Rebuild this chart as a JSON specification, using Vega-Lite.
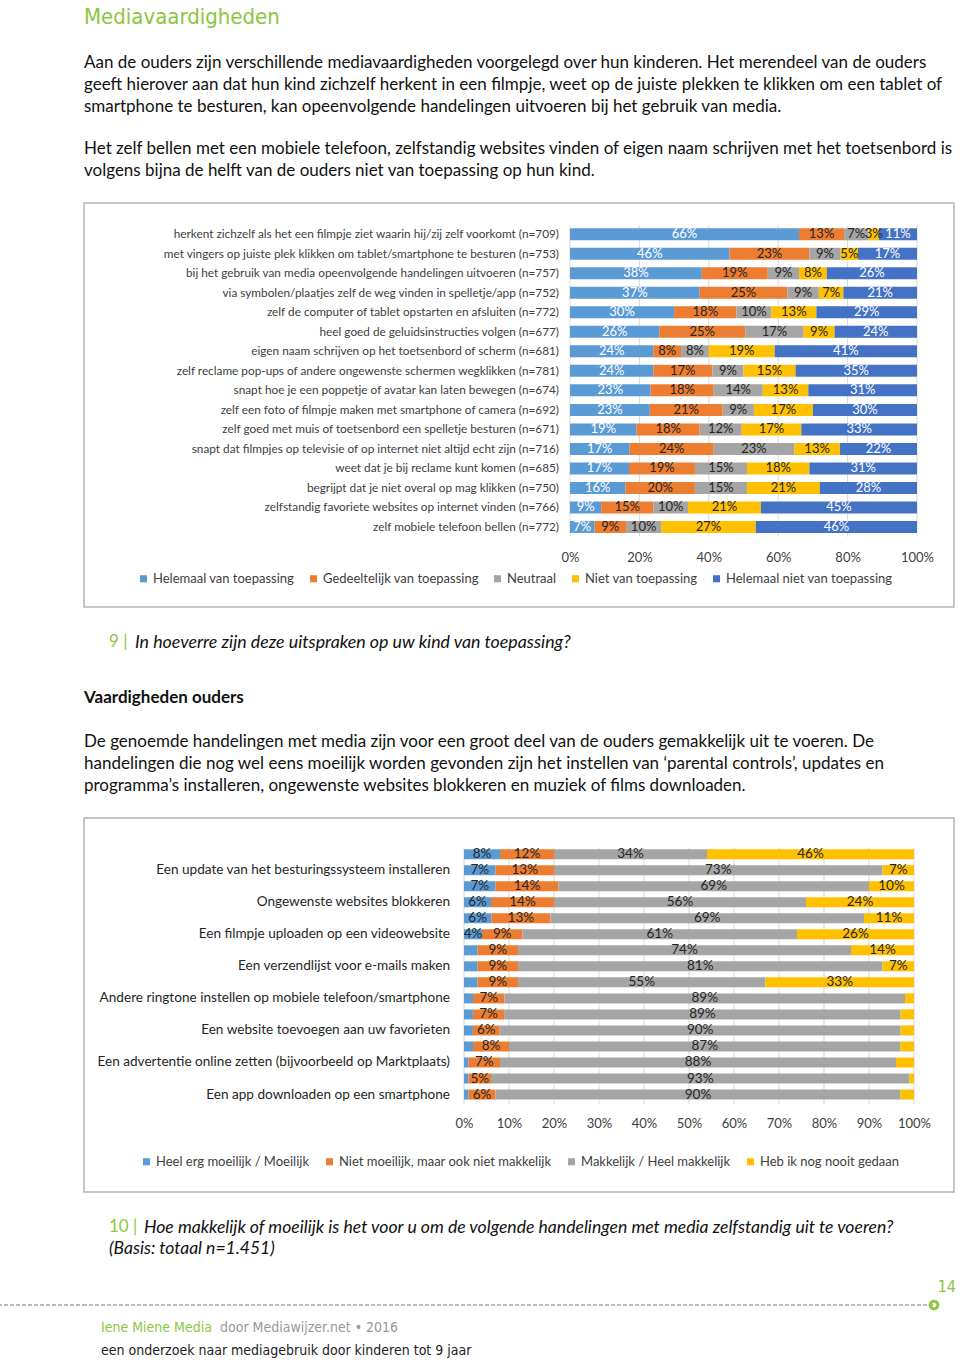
{
  "$schema": "https://vega.github.io/schema/vega-lite/v6.json",
  "background": "white",
  "padding": {"left": 0, "top": 5, "right": 0, "bottom": 0},
  "columns": 2,
  "spacing": 0,
  "bounds": "flush",
  "align": "each",
  "resolve": {"scale": {"color": "independent"}},
  "config": {
    "view": {"stroke": null},
    "font": "Lato",
    "title": {"anchor": "start", "frame": "group", "fontWeight": "normal", "font": "Lato", "color": "#111111"}
  },
  "datasets": {
    "c1cats": [
      {"k": 1, "cat": "Helemaal van toepassing"},
      {"k": 2, "cat": "Gedeeltelijk van toepassing"},
      {"k": 3, "cat": "Neutraal"},
      {"k": 4, "cat": "Niet van toepassing"},
      {"k": 5, "cat": "Helemaal niet van toepassing"}
    ],
    "c1items": [
      {"i": 1, "item": "herkent zichzelf als het een filmpje ziet waarin hij/zij zelf voorkomt (n=709)"},
      {"i": 2, "item": "met vingers op juiste plek klikken om  tablet/smartphone te besturen (n=753)"},
      {"i": 3, "item": "bij het gebruik van media opeenvolgende handelingen uitvoeren (n=757)"},
      {"i": 4, "item": "via symbolen/plaatjes zelf de weg vinden in spelletje/app (n=752)"},
      {"i": 5, "item": "zelf de computer of tablet opstarten en afsluiten (n=772)"},
      {"i": 6, "item": "heel goed de geluidsinstructies volgen (n=677)"},
      {"i": 7, "item": "eigen naam schrijven op het toetsenbord of scherm (n=681)"},
      {"i": 8, "item": "zelf reclame pop-ups of andere ongewenste schermen wegklikken (n=781)"},
      {"i": 9, "item": "snapt hoe je een poppetje of avatar kan laten bewegen (n=674)"},
      {"i": 10, "item": "zelf een foto of filmpje maken met smartphone of camera (n=692)"},
      {"i": 11, "item": "zelf  goed met  muis of toetsenbord een spelletje besturen (n=671)"},
      {"i": 12, "item": "snapt dat filmpjes op televisie of op internet niet altijd echt zijn (n=716)"},
      {"i": 13, "item": "weet dat je bij reclame kunt komen (n=685)"},
      {"i": 14, "item": "begrijpt dat je niet overal op mag klikken (n=750)"},
      {"i": 15, "item": "zelfstandig favoriete websites op internet vinden (n=766)"},
      {"i": 16, "item": "zelf mobiele telefoon bellen (n=772)"}
    ],
    "c1": [
      {"i":1,"k":1,"v":0.66},{"i":1,"k":2,"v":0.13},{"i":1,"k":3,"v":0.07},{"i":1,"k":4,"v":0.03},{"i":1,"k":5,"v":0.11},
      {"i":2,"k":1,"v":0.46},{"i":2,"k":2,"v":0.23},{"i":2,"k":3,"v":0.09},{"i":2,"k":4,"v":0.05},{"i":2,"k":5,"v":0.17},
      {"i":3,"k":1,"v":0.38},{"i":3,"k":2,"v":0.19},{"i":3,"k":3,"v":0.09},{"i":3,"k":4,"v":0.08},{"i":3,"k":5,"v":0.26},
      {"i":4,"k":1,"v":0.37},{"i":4,"k":2,"v":0.25},{"i":4,"k":3,"v":0.09},{"i":4,"k":4,"v":0.07},{"i":4,"k":5,"v":0.21},
      {"i":5,"k":1,"v":0.30},{"i":5,"k":2,"v":0.18},{"i":5,"k":3,"v":0.10},{"i":5,"k":4,"v":0.13},{"i":5,"k":5,"v":0.29},
      {"i":6,"k":1,"v":0.26},{"i":6,"k":2,"v":0.25},{"i":6,"k":3,"v":0.17},{"i":6,"k":4,"v":0.09},{"i":6,"k":5,"v":0.24},
      {"i":7,"k":1,"v":0.24},{"i":7,"k":2,"v":0.08},{"i":7,"k":3,"v":0.08},{"i":7,"k":4,"v":0.19},{"i":7,"k":5,"v":0.41},
      {"i":8,"k":1,"v":0.24},{"i":8,"k":2,"v":0.17},{"i":8,"k":3,"v":0.09},{"i":8,"k":4,"v":0.15},{"i":8,"k":5,"v":0.35},
      {"i":9,"k":1,"v":0.23},{"i":9,"k":2,"v":0.18},{"i":9,"k":3,"v":0.14},{"i":9,"k":4,"v":0.13},{"i":9,"k":5,"v":0.31},
      {"i":10,"k":1,"v":0.23},{"i":10,"k":2,"v":0.21},{"i":10,"k":3,"v":0.09},{"i":10,"k":4,"v":0.17},{"i":10,"k":5,"v":0.30},
      {"i":11,"k":1,"v":0.19},{"i":11,"k":2,"v":0.18},{"i":11,"k":3,"v":0.12},{"i":11,"k":4,"v":0.17},{"i":11,"k":5,"v":0.33},
      {"i":12,"k":1,"v":0.17},{"i":12,"k":2,"v":0.24},{"i":12,"k":3,"v":0.23},{"i":12,"k":4,"v":0.13},{"i":12,"k":5,"v":0.22},
      {"i":13,"k":1,"v":0.17},{"i":13,"k":2,"v":0.19},{"i":13,"k":3,"v":0.15},{"i":13,"k":4,"v":0.18},{"i":13,"k":5,"v":0.31},
      {"i":14,"k":1,"v":0.16},{"i":14,"k":2,"v":0.20},{"i":14,"k":3,"v":0.15},{"i":14,"k":4,"v":0.21},{"i":14,"k":5,"v":0.28},
      {"i":15,"k":1,"v":0.09},{"i":15,"k":2,"v":0.15},{"i":15,"k":3,"v":0.10},{"i":15,"k":4,"v":0.21},{"i":15,"k":5,"v":0.45},
      {"i":16,"k":1,"v":0.07},{"i":16,"k":2,"v":0.09},{"i":16,"k":3,"v":0.10},{"i":16,"k":4,"v":0.27},{"i":16,"k":5,"v":0.46}
    ],
    "c2cats": [
      {"k": 1, "cat": "Heel erg moeilijk / Moeilijk"},
      {"k": 2, "cat": "Niet moeilijk, maar ook niet makkelijk"},
      {"k": 3, "cat": "Makkelijk / Heel makkelijk"},
      {"k": 4, "cat": "Heb ik nog nooit gedaan"}
    ],
    "c2items": [
      {"i": 2, "item": "Een update van het besturingssysteem installeren"},
      {"i": 4, "item": "Ongewenste websites blokkeren"},
      {"i": 6, "item": "Een filmpje uploaden op een videowebsite"},
      {"i": 8, "item": "Een verzendlijst voor e-mails maken"},
      {"i": 10, "item": "Andere ringtone instellen op mobiele telefoon/smartphone"},
      {"i": 12, "item": "Een website toevoegen aan uw favorieten"},
      {"i": 14, "item": "Een advertentie online zetten (bijvoorbeeld op Marktplaats)"},
      {"i": 16, "item": "Een app downloaden op een smartphone"}
    ],
    "c2": [
      {"i":1,"k":1,"v":0.08},{"i":1,"k":2,"v":0.12},{"i":1,"k":3,"v":0.34},{"i":1,"k":4,"v":0.46},
      {"i":2,"k":1,"v":0.07},{"i":2,"k":2,"v":0.13},{"i":2,"k":3,"v":0.73},{"i":2,"k":4,"v":0.07},
      {"i":3,"k":1,"v":0.07},{"i":3,"k":2,"v":0.14},{"i":3,"k":3,"v":0.69},{"i":3,"k":4,"v":0.10},
      {"i":4,"k":1,"v":0.06},{"i":4,"k":2,"v":0.14},{"i":4,"k":3,"v":0.56},{"i":4,"k":4,"v":0.24},
      {"i":5,"k":1,"v":0.06},{"i":5,"k":2,"v":0.13},{"i":5,"k":3,"v":0.69},{"i":5,"k":4,"v":0.11},
      {"i":6,"k":1,"v":0.04},{"i":6,"k":2,"v":0.09},{"i":6,"k":3,"v":0.61},{"i":6,"k":4,"v":0.26},
      {"i":7,"k":1,"v":0.03},{"i":7,"k":2,"v":0.09},{"i":7,"k":3,"v":0.74},{"i":7,"k":4,"v":0.14},
      {"i":8,"k":1,"v":0.03},{"i":8,"k":2,"v":0.09},{"i":8,"k":3,"v":0.81},{"i":8,"k":4,"v":0.07},
      {"i":9,"k":1,"v":0.03},{"i":9,"k":2,"v":0.09},{"i":9,"k":3,"v":0.55},{"i":9,"k":4,"v":0.33},
      {"i":10,"k":1,"v":0.02},{"i":10,"k":2,"v":0.07},{"i":10,"k":3,"v":0.89},{"i":10,"k":4,"v":0.02},
      {"i":11,"k":1,"v":0.02},{"i":11,"k":2,"v":0.07},{"i":11,"k":3,"v":0.89},{"i":11,"k":4,"v":0.03},
      {"i":12,"k":1,"v":0.02},{"i":12,"k":2,"v":0.06},{"i":12,"k":3,"v":0.90},{"i":12,"k":4,"v":0.03},
      {"i":13,"k":1,"v":0.02},{"i":13,"k":2,"v":0.08},{"i":13,"k":3,"v":0.87},{"i":13,"k":4,"v":0.03},
      {"i":14,"k":1,"v":0.01},{"i":14,"k":2,"v":0.07},{"i":14,"k":3,"v":0.88},{"i":14,"k":4,"v":0.04},
      {"i":15,"k":1,"v":0.01},{"i":15,"k":2,"v":0.05},{"i":15,"k":3,"v":0.93},{"i":15,"k":4,"v":0.01},
      {"i":16,"k":1,"v":0.01},{"i":16,"k":2,"v":0.06},{"i":16,"k":3,"v":0.90},{"i":16,"k":4,"v":0.03}
    ]
  },
  "concat": [
    {"width": 83, "height": 404, "data": {"values": []}, "mark": "point",
     "title": {
       "text": [
         "Het zelf bellen met een mobiele telefoon, zelfstandig websites vinden of eigen naam schrijven met het toetsenbord is",
         "volgens bijna de helft van de ouders niet van toepassing op hun kind."
       ],
       "orient": "top", "dx": 83, "offset": 23, "font": "Lato", "fontSize": 17, "lineHeight": 22, "color": "#111111"
     }},
    {
      "width": 870, "height": 404,
      "view": {"stroke": "#b4b4b4", "strokeWidth": 1.5},
      "title": {
        "text": "Mediavaardigheden",
        "subtitle": [
          "Aan de ouders zijn verschillende mediavaardigheden voorgelegd over hun kinderen. Het merendeel van de ouders",
          "geeft hierover aan dat hun kind zichzelf herkent in een filmpje, weet op de juiste plekken te klikken om een tablet of",
          "smartphone te besturen, kan opeenvolgende handelingen uitvoeren bij het gebruik van media."
        ],
        "orient": "top", "offset": 87,
        "font": "DejaVu Sans Condensed, Liberation Sans Narrow, DejaVu Sans",
        "fontSize": 22, "color": "#8DC63F",
        "subtitleFont": "Lato", "subtitleFontSize": 17, "subtitleColor": "#111111",
        "subtitleLineHeight": 22, "subtitlePadding": 26
      },
      "layer": [
        {
          "data": {"values": [{"t": 0}, {"t": 0.2}, {"t": 0.4}, {"t": 0.6}, {"t": 0.8}, {"t": 1}]},
          "mark": {"type": "rule", "color": "#d9d9d9", "strokeWidth": 1},
          "encoding": {
            "x": {"field": "t", "type": "quantitative", "title": null,
                  "scale": {"domain": [-1.40058, 1.10663], "nice": false, "zero": false},
                  "axis": {"values": [0, 0.2, 0.4, 0.6, 0.8, 1], "format": ".0%", "grid": false, "domain": false, "ticks": false,
                           "labelFontSize": 13, "labelColor": "#404040", "labelPadding": 0, "offset": -56, "labelFlush": false, "labelFont": "Lato"}},
            "y": {"datum": 0.55, "type": "quantitative", "scale": {"domain": [-0.35, 19.85], "reverse": true, "nice": false, "zero": false}, "axis": null},
            "y2": {"datum": 16.5}
          }
        },
        {
          "data": {"name": "c1"},
          "transform": [
            {"lookup": "k", "from": {"data": {"name": "c1cats"}, "key": "k", "fields": ["cat"]}},
            {"stack": "v", "groupby": ["i"], "sort": [{"field": "k", "order": "ascending"}], "as": ["x0", "x1"], "offset": "normalize"}
          ],
          "mark": {"type": "bar", "orient": "horizontal", "height": 12},
          "encoding": {
            "x": {"field": "x0", "type": "quantitative", "title": null, "scale": {"domain": [-1.40058, 1.10663], "nice": false, "zero": false}},
            "x2": {"field": "x1"},
            "y": {"field": "i", "type": "quantitative", "scale": {"domain": [-0.35, 19.85], "reverse": true, "nice": false, "zero": false}, "axis": null},
            "color": {
              "field": "cat", "type": "nominal",
              "scale": {
                "domain": ["Helemaal van toepassing", "Gedeeltelijk van toepassing", "Neutraal", "Niet van toepassing", "Helemaal niet van toepassing"],
                "range": ["#5B9BD5", "#ED7D31", "#A5A5A5", "#FFC000", "#4472C4"]
              },
              "legend": {"orient": "none", "legendX": 53, "legendY": 369, "direction": "horizontal", "title": null,
                         "symbolType": "square", "symbolSize": 50, "symbolStrokeWidth": 0, "labelFontSize": 13, "labelFont": "Lato",
                         "labelColor": "#404040", "columnPadding": 12, "labelOffset": 3, "labelLimit": 400}
            }
          }
        },
        {
          "data": {"name": "c1"},
          "transform": [
            {"stack": "v", "groupby": ["i"], "sort": [{"field": "k", "order": "ascending"}], "as": ["x0", "x1"], "offset": "normalize"},
            {"fold": ["x0", "x1"], "as": ["edge", "xe"]},
            {"aggregate": [{"op": "mean", "field": "xe", "as": "xm"}], "groupby": ["i", "k", "v"]}
          ],
          "mark": {"type": "text", "fontSize": 13, "font": "Lato", "baseline": "middle"},
          "encoding": {
            "x": {"field": "xm", "type": "quantitative", "title": null, "scale": {"domain": [-1.40058, 1.10663], "nice": false, "zero": false}},
            "y": {"field": "i", "type": "quantitative", "scale": {"domain": [-0.35, 19.85], "reverse": true, "nice": false, "zero": false}, "axis": null},
            "text": {"field": "v", "type": "quantitative", "format": ".0%"},
            "color": {"condition": {"test": "datum.k === 1 || datum.k === 5", "value": "#ffffff"}, "value": "#262626"}
          }
        },
        {
          "data": {"name": "c1items"},
          "mark": {"type": "text", "align": "right", "baseline": "middle", "fontSize": 11.8, "font": "Lato", "color": "#404040"},
          "encoding": {
            "x": {"datum": -0.0317, "type": "quantitative", "title": null, "scale": {"domain": [-1.40058, 1.10663], "nice": false, "zero": false}},
            "y": {"field": "i", "type": "quantitative", "scale": {"domain": [-0.35, 19.85], "reverse": true, "nice": false, "zero": false}, "axis": null},
            "text": {"field": "item"}
          }
        }
      ]
    },
    {"width": 83, "height": 0.01, "data": {"values": []}, "mark": "point",
     "title": {"text": "9 |", "orient": "bottom", "dx": 108, "offset": 27, "color": "#8DC63F", "fontSize": 17}},
    {"width": 870, "height": 0.01, "data": {"values": []}, "mark": "point",
     "title": {"text": "In hoeverre zijn deze uitspraken op uw kind van toepassing?", "orient": "bottom", "dx": 51, "offset": 27, "fontStyle": "italic", "fontSize": 17.8}},
    {"width": 83, "height": 210, "data": {"values": []}, "mark": "point"},
    {"width": 870, "height": 210, "data": {"values": []}, "mark": "point"},
    {"width": 83, "height": 374, "data": {"values": []}, "mark": "point"},
    {
      "width": 870, "height": 374,
      "view": {"stroke": "#b4b4b4", "strokeWidth": 1.5},
      "title": {
        "text": "Vaardigheden ouders",
        "subtitle": [
          "De genoemde handelingen met media zijn voor een groot deel van de ouders gemakkelijk uit te voeren. De",
          "handelingen die nog wel eens moeilijk worden gevonden zijn het instellen van ‘parental controls’, updates en",
          "programma’s installeren, ongewenste websites blokkeren en muziek of films downloaden."
        ],
        "orient": "top", "offset": 23,
        "font": "Lato", "fontSize": 17, "fontWeight": "bold", "color": "#111111",
        "subtitleFont": "Lato", "subtitleFontSize": 17, "subtitleColor": "#111111",
        "subtitleLineHeight": 22, "subtitlePadding": 27
      },
      "layer": [
        {
          "data": {"values": [{"t": 0}, {"t": 0.1}, {"t": 0.2}, {"t": 0.3}, {"t": 0.4}, {"t": 0.5}, {"t": 0.6}, {"t": 0.7}, {"t": 0.8}, {"t": 0.9}, {"t": 1}]},
          "mark": {"type": "rule", "color": "#d9d9d9", "strokeWidth": 1},
          "encoding": {
            "x": {"field": "t", "type": "quantitative", "title": null,
                  "scale": {"domain": [-0.84444, 1.08889], "nice": false, "zero": false},
                  "axis": {"values": [0, 0.1, 0.2, 0.3, 0.4, 0.5, 0.6, 0.7, 0.8, 0.9, 1], "format": ".0%", "grid": false, "domain": false, "ticks": false,
                           "labelFontSize": 13, "labelColor": "#404040", "labelPadding": 0, "offset": -75, "labelFlush": false, "labelFont": "Lato"}},
            "y": {"datum": 0.6, "type": "quantitative", "scale": {"domain": [-0.9433, 21.769], "reverse": true, "nice": false, "zero": false}, "axis": null},
            "y2": {"datum": 16.6}
          }
        },
        {
          "data": {"name": "c2"},
          "transform": [
            {"lookup": "k", "from": {"data": {"name": "c2cats"}, "key": "k", "fields": ["cat"]}},
            {"stack": "v", "groupby": ["i"], "sort": [{"field": "k", "order": "ascending"}], "as": ["x0", "x1"], "offset": "normalize"}
          ],
          "mark": {"type": "bar", "orient": "horizontal", "height": 10},
          "encoding": {
            "x": {"field": "x0", "type": "quantitative", "title": null, "scale": {"domain": [-0.84444, 1.08889], "nice": false, "zero": false}},
            "x2": {"field": "x1"},
            "y": {"field": "i", "type": "quantitative", "scale": {"domain": [-0.9433, 21.769], "reverse": true, "nice": false, "zero": false}, "axis": null},
            "color": {
              "field": "cat", "type": "nominal",
              "scale": {
                "domain": ["Heel erg moeilijk / Moeilijk", "Niet moeilijk, maar ook niet makkelijk", "Makkelijk / Heel makkelijk", "Heb ik nog nooit gedaan"],
                "range": ["#5B9BD5", "#ED7D31", "#A5A5A5", "#FFC000"]
              },
              "legend": {"orient": "none", "legendX": 56, "legendY": 337, "direction": "horizontal", "title": null,
                         "symbolType": "square", "symbolSize": 50, "symbolStrokeWidth": 0, "labelFontSize": 13, "labelFont": "Lato",
                         "labelColor": "#404040", "columnPadding": 13, "labelOffset": 3, "labelLimit": 400}
            }
          }
        },
        {
          "data": {"name": "c2"},
          "transform": [
            {"stack": "v", "groupby": ["i"], "sort": [{"field": "k", "order": "ascending"}], "as": ["x0", "x1"], "offset": "normalize"},
            {"filter": "datum.v >= 0.04 && !(datum.i === 14 && datum.k === 4)"},
            {"fold": ["x0", "x1"], "as": ["edge", "xe"]},
            {"aggregate": [{"op": "mean", "field": "xe", "as": "xm"}], "groupby": ["i", "k", "v"]}
          ],
          "mark": {"type": "text", "fontSize": 13.5, "font": "Lato", "baseline": "middle", "color": "#262626"},
          "encoding": {
            "x": {"field": "xm", "type": "quantitative", "title": null, "scale": {"domain": [-0.84444, 1.08889], "nice": false, "zero": false}},
            "y": {"field": "i", "type": "quantitative", "scale": {"domain": [-0.9433, 21.769], "reverse": true, "nice": false, "zero": false}, "axis": null},
            "text": {"field": "v", "type": "quantitative", "format": ".0%"}
          }
        },
        {
          "data": {"name": "c2items"},
          "mark": {"type": "text", "align": "right", "baseline": "middle", "fontSize": 13.6, "font": "Lato", "color": "#262626"},
          "encoding": {
            "x": {"datum": -0.0311, "type": "quantitative", "title": null, "scale": {"domain": [-0.84444, 1.08889], "nice": false, "zero": false}},
            "y": {"field": "i", "type": "quantitative", "scale": {"domain": [-0.9433, 21.769], "reverse": true, "nice": false, "zero": false}, "axis": null},
            "text": {"field": "item"}
          }
        }
      ]
    },
    {"width": 83, "height": 0.01, "data": {"values": []}, "mark": "point",
     "title": {"text": "10 |", "subtitle": "(Basis: totaal n=1.451)", "orient": "bottom", "dx": 108, "offset": 27, "color": "#8DC63F", "fontSize": 17,
               "subtitleFont": "Lato", "subtitleFontSize": 17.5, "subtitleFontStyle": "italic", "subtitleColor": "#111111", "subtitlePadding": 4}},
    {"width": 870, "height": 0.01, "data": {"values": []}, "mark": "point",
     "title": {"text": "Hoe makkelijk of moeilijk is het voor u om de volgende handelingen met media zelfstandig uit te voeren?", "orient": "bottom", "dx": 60, "offset": 27, "fontStyle": "italic", "fontSize": 17.6}},
    {"width": 83, "height": 112, "data": {"values": []}, "mark": "point"},
    {"width": 870, "height": 112, "data": {"values": []}, "mark": "point"},
    {"width": 83, "height": 0.01, "data": {"values": []}, "mark": "point",
     "view": {"stroke": "#a6a6a6", "strokeWidth": 2, "strokeDash": [0, 6], "strokeCap": "round"}},
    {"width": 850, "height": 0.01, "data": {"values": [{}]},
     "view": {"stroke": "#a6a6a6", "strokeWidth": 2, "strokeDash": [0, 6], "strokeCap": "round"},
     "mark": {"type": "point", "filled": false, "stroke": "#8DC63F", "strokeWidth": 3, "size": 60, "opacity": 1},
     "encoding": {"x": {"value": "width"}},
     "title": {"text": "14", "orient": "top", "anchor": "end", "dx": 22, "offset": 0, "color": "#8DC63F", "fontSize": 16,
               "font": "DejaVu Sans Condensed, Liberation Sans Narrow, DejaVu Sans"}},
    {"width": 83, "height": 0.01, "data": {"values": []}, "mark": "point",
     "title": {"text": "Iene Miene Media", "subtitle": "een onderzoek naar mediagebruik door kinderen tot 9 jaar", "orient": "bottom", "dx": 100, "offset": 15,
               "color": "#8DC63F", "fontSize": 14, "font": "DejaVu Sans Condensed, Liberation Sans Narrow, DejaVu Sans",
               "subtitleFont": "DejaVu Sans Condensed, Liberation Sans Narrow, DejaVu Sans", "subtitleFontSize": 14, "subtitleColor": "#222222", "subtitlePadding": 9}},
    {"width": 870, "height": 0.01, "data": {"values": []}, "mark": "point",
     "title": {"text": "door Mediawijzer.net • 2016", "orient": "bottom", "dx": 136, "offset": 15, "color": "#999999", "fontSize": 14,
               "font": "DejaVu Sans Condensed, Liberation Sans Narrow, DejaVu Sans"}}
  ]
}
